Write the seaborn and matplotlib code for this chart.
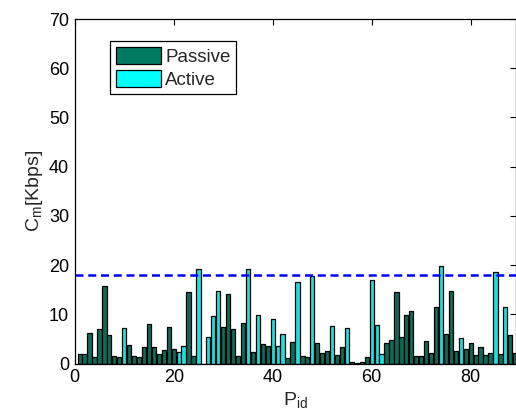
import matplotlib
matplotlib.use("Agg")
import matplotlib.pyplot as plt
from matplotlib.patches import Patch
import seaborn as sns
import pandas as pd

# ---- data ----
p_id = list(range(1, 90))
rate_kbps = [2.0, 2.0, 6.2, 1.3, 7.0, 15.7, 5.8, 1.6, 1.3, 7.3,
             3.7, 1.5, 1.4, 3.3, 8.0, 3.3, 2.0, 2.8, 7.4, 2.9,
             2.4, 3.5, 14.5, 1.5, 19.2, 0.0, 5.5, 9.7, 14.8, 7.5,
             14.2, 7.1, 1.6, 8.2, 19.2, 2.3, 9.8, 4.0, 3.6, 9.0,
             3.6, 6.1, 1.1, 4.5, 16.5, 1.6, 1.4, 17.9, 4.3, 2.1,
             2.6, 7.7, 1.8, 3.3, 7.3, 0.3, 0.15, 0.3, 1.3, 16.9,
             7.9, 1.9, 4.3, 4.75, 14.5, 5.5, 9.9, 10.7, 1.6, 1.6,
             4.6, 2.1, 11.5, 19.9, 6.0, 14.8, 2.5, 5.3, 2.9, 4.3,
             1.8, 3.3, 1.8, 2.2, 18.6, 2.0, 11.6, 5.8, 2.2]
active_ids = [10, 21, 22, 25, 26, 27, 28, 29, 35, 37, 40, 41, 42, 45, 48,
              52, 55, 60, 61, 62, 74, 78, 85, 87]
categories = ["Passive", "Active"]
threshold = 18
x_ticks = [0, 20, 40, 60, 80]
y_ticks = [0, 10, 20, 30, 40, 50, 60, 70]

colors = {"Passive": "#007A62", "Active": "#00FFFF"}

df = pd.DataFrame({
    "P_id": p_id,
    "rate": rate_kbps,
    "type": ["Active" if i in active_ids else "Passive" for i in p_id],
})

sns.set_style("white")
plt.rcParams["font.family"] = ["Liberation Sans", "DejaVu Sans"]
plt.rcParams["mathtext.fontset"] = "custom"
plt.rcParams["mathtext.rm"] = "Liberation Sans"

fig = plt.figure(figsize=(5.16, 4.19), dpi=100)
ax = fig.add_axes([74.7 / 516, 1 - 363.7 / 419, 1 - 74.7 / 516, (363.7 - 19) / 419])

sns.barplot(data=df, x="P_id", y="rate", hue="type", hue_order=categories,
            palette=colors, native_scale=True, dodge=False, width=0.85,
            edgecolor="black", linewidth=0.9, legend=False, ax=ax)

ax.axhline(threshold, color="#0000FF", linewidth=1.8, linestyle=(0, (3.2, 1.9)))

ax.set_xlim(0, (516 - 74.7) / 4.95)
ax.set_ylim(0, 70)
ax.set_xticks(x_ticks)
ax.set_yticks(y_ticks)
ax.tick_params(direction="in", length=4, width=0.8, labelsize=13, pad=4,
               top=True, right=True, colors="black")
for s in ax.spines.values():
    s.set_visible(True)
    s.set_color("black")
    s.set_linewidth(0.9)

ax.set_xlabel(r"P$_{\mathregular{id}}$", fontsize=14, labelpad=3)
ax.set_ylabel(r"C$_{\mathregular{m}}$[Kbps]", fontsize=14, labelpad=3)

handles = [Patch(facecolor=colors[c], edgecolor="black", linewidth=0.9) for c in categories]
leg = ax.legend(handles, categories, loc="upper left", bbox_to_anchor=(0.080, 0.936),
                borderaxespad=0, fontsize=13.5, handlelength=2.4, handleheight=1.05,
                handletextpad=0.25, labelspacing=0.2, borderpad=0.3,
                fancybox=False, framealpha=1, edgecolor="black")
leg.get_frame().set_linewidth(0.9)

fig.savefig("out.png", dpi=100)
